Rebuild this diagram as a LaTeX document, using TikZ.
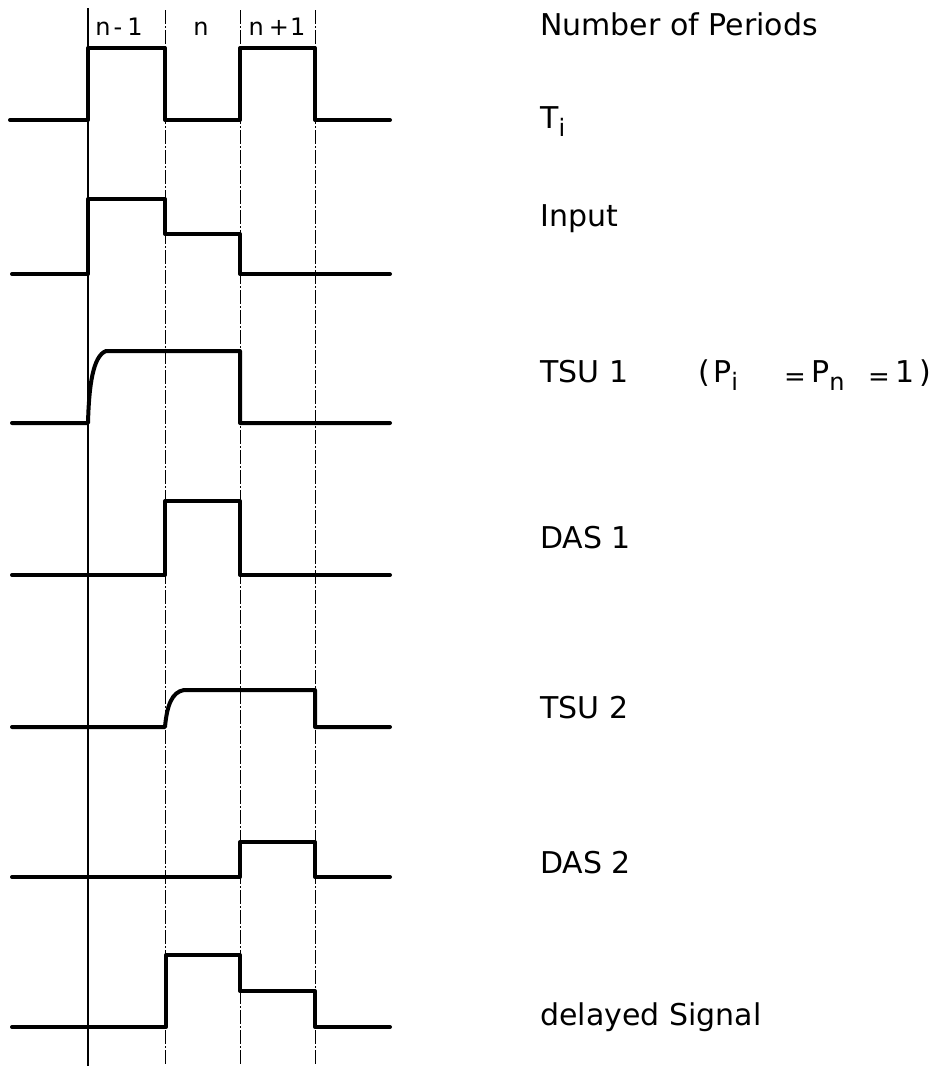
\documentclass[tikz,border=0pt]{standalone}
\usepackage{fontspec}
\setmainfont{DejaVu Sans}
\usetikzlibrary{positioning}
\newcommand{\lowsub}[1]{\raisebox{-8pt}{\fontsize{24}{24}\selectfont #1}}
\newcommand{\loweq}{\raisebox{-3pt}{\fontsize{26}{26}\selectfont =}}

\begin{document}
\begin{tikzpicture}[x=1pt, y=-1pt,
    sig/.style={line width=4pt, line join=round, line cap=round},
    sep/.style={line width=0.7pt, dash pattern=on 14pt off 2pt on 2pt off 2pt},
    lbl/.style={anchor=base west, inner sep=0pt, font=\fontsize{30}{32}\selectfont},
    per/.style={anchor=base, inner sep=0pt, font=\fontsize{24}{26}\selectfont}]
  \useasboundingbox (0,0) rectangle (940,1066);

  \draw[line width=1.2pt] (88,8) -- (88,1066);
  \foreach \x in {165,240,315}
    \draw[sep] (\x,10) -- (\x,1064);

  \node[per] (pnm) at (119,35) {n\kern3pt-\kern5pt1};
  \node[per] (pn)  at (201,35) {n};
  \node[per] (pnp) at (277,35) {n\kern5pt+\kern1pt1};

  \draw[sig] (10,120) -- (88,120) -- (88,48) -- (165,48) -- (165,120)
             -- (240,120) -- (240,48) -- (315,48) -- (315,120) -- (390,120);
  \draw[sig] (12,274) -- (88,274) -- (88,199) -- (165,199) -- (165,234)
             -- (240,234) -- (240,274) -- (390,274);
  \draw[sig] (12,423) -- (88,423) .. controls (89,385) and (93,356) .. (106,351)
             -- (240,351) -- (240,423) -- (390,423);
  \draw[sig] (12,575) -- (165,575) -- (165,501) -- (240,501) -- (240,575)
             -- (390,575);
  \draw[sig] (12,727) -- (165,727) .. controls (167,705) and (172,692) .. (184,690)
             -- (315,690) -- (315,727) -- (390,727);
  \draw[sig] (12,877) -- (240,877) -- (240,842) -- (315,842) -- (315,877)
             -- (390,877);
  \draw[sig] (12,1027) -- (166,1027) -- (166,955) -- (240,955) -- (240,991)
             -- (315,991) -- (315,1027) -- (390,1027);

  \node[lbl] (periods) at (540,35)   {Number of Periods};
  \node[lbl] (ti)      at (540,128)  {T\lowsub{i}};
  \node[lbl] (input)   at (540,226)  {Input};
  \node[lbl] (tsu1)    at (540,382)  {TSU 1};
  \node[lbl] (cond)    at (698,382)  {\makebox[15pt][l]{(}\makebox[71pt][l]{P\lowsub{i}}\makebox[27pt][l]{\loweq}\makebox[57pt][l]{P\lowsub{n}}\makebox[27pt][l]{\loweq}\makebox[24pt][l]{1})};
  \node[lbl] (das1)    at (540,548)  {DAS 1};
  \node[lbl] (tsu2)    at (540,718)  {TSU 2};
  \node[lbl] (das2)    at (540,873)  {DAS 2};
  \node[lbl] (delayed) at (540,1025) {delayed Signal};
\end{tikzpicture}
\end{document}
